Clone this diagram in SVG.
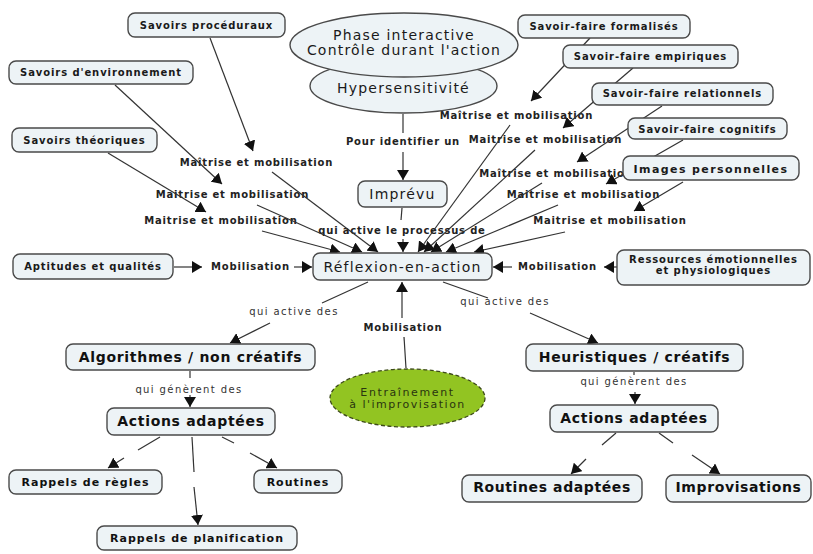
<svg xmlns="http://www.w3.org/2000/svg" width="813" height="554" viewBox="0 0 813 554">
<defs>
<marker id="ah" viewBox="0 0 10 12" refX="10" refY="6" markerWidth="10" markerHeight="12" markerUnits="userSpaceOnUse" orient="auto">
<path d="M0,0 L10,6 L0,12 Z" fill="#111"/>
</marker>
<style>
.n rect, .n ellipse { fill: #edf3f6; stroke: #4a4a4a; stroke-width: 1.4; }
.s { font-family: "DejaVu Sans", Verdana, sans-serif; font-size: 10px; font-weight: bold; letter-spacing: 0.9px; fill: #1a1a1a; text-anchor: middle; }
.m { font-family: "DejaVu Sans", Verdana, sans-serif; font-size: 14px; letter-spacing: 1.2px; fill: #1a1a1a; text-anchor: middle; }
.b { font-family: "DejaVu Sans", Verdana, sans-serif; font-size: 14px; font-weight: bold; letter-spacing: 0.7px; fill: #111; text-anchor: middle; }
.b11 { font-family: "DejaVu Sans", Verdana, sans-serif; font-size: 11px; font-weight: bold; letter-spacing: 1px; fill: #111; text-anchor: middle; }
.lb { font-family: "DejaVu Sans", Verdana, sans-serif; font-size: 10px; font-weight: bold; letter-spacing: 0.8px; fill: #222; text-anchor: middle; }
.ln { font-family: "DejaVu Sans", Verdana, sans-serif; font-size: 10px; letter-spacing: 1.4px; fill: #333; text-anchor: middle; }
.c line { stroke: #333; stroke-width: 1.2; }
.c line.a { marker-end: url(#ah); }
</style>
</defs>
<rect width="813" height="554" fill="#ffffff"/>

<g id="connectors" class="c">
<!-- labels -->
<text class="lb" x="256.5" y="166">Maîtrise et mobilisation</text>
<text class="lb" x="232.5" y="198">Maitrise et mobilisation</text>
<text class="lb" x="221" y="224">Maitrise et mobilisation</text>
<text class="lb" x="516.5" y="119">Maîtrise et mobilisation</text>
<text class="lb" x="545.5" y="143">Maitrise et mobilisation</text>
<text class="lb" x="556" y="177">Maîtrise et mobilisation</text>
<text class="lb" x="583.5" y="198">Maitrise et mobilisation</text>
<text class="lb" x="610" y="224">Maitrise et mobilisation</text>
<text class="lb" x="403" y="145">Pour identifier un</text>
<text class="lb" x="402" y="234">qui active le processus de</text>
<text class="lb" x="250.5" y="270">Mobilisation</text>
<text class="lb" x="557.5" y="270">Mobilisation</text>
<text class="lb" x="403" y="331">Mobilisation</text>
<text class="ln" x="294" y="315">qui active des</text>
<text class="ln" x="505" y="305">qui active des</text>
<text class="ln" x="189" y="393">qui génèrent des</text>
<text class="ln" x="634" y="385">qui génèrent des</text>

<!-- left sources -->
<line class="a" x1="210" y1="38" x2="253" y2="151"/>
<line class="a" x1="115" y1="85" x2="222" y2="184"/>
<line class="a" x1="108" y1="153" x2="206" y2="212"/>
<line class="a" x1="272" y1="172" x2="378" y2="252"/>
<line class="a" x1="257" y1="205" x2="362" y2="252"/>
<line class="a" x1="262" y1="231" x2="340" y2="252"/>
<!-- right sources -->
<line class="a" x1="590" y1="38" x2="531" y2="101"/>
<line class="a" x1="633" y1="68" x2="563" y2="128"/>
<line class="a" x1="662" y1="106" x2="577" y2="162"/>
<line class="a" x1="683" y1="140" x2="606" y2="184"/>
<line class="a" x1="683" y1="182" x2="634" y2="211"/>
<line class="a" x1="510" y1="125" x2="418" y2="252"/>
<line class="a" x1="535" y1="150" x2="424" y2="252"/>
<line class="a" x1="542" y1="183" x2="431" y2="252"/>
<line class="a" x1="558" y1="205" x2="446" y2="252"/>
<line class="a" x1="565" y1="232" x2="474" y2="252"/>
<!-- center vertical -->
<line x1="403" y1="114" x2="403" y2="133"/>
<line class="a" x1="403" y1="152" x2="403" y2="180"/>
<line x1="402" y1="208" x2="401" y2="220"/>
<line class="a" x1="403" y1="239" x2="403" y2="252"/>
<!-- side mobilisation -->
<line class="a" x1="174" y1="267" x2="202" y2="267"/>
<line class="a" x1="294" y1="267" x2="312" y2="267"/>
<line class="a" x1="617" y1="267" x2="604" y2="267"/>
<line class="a" x1="512" y1="267" x2="493" y2="267"/>
<!-- bottom mobilisation -->
<line x1="406" y1="368" x2="404" y2="337"/>
<line class="a" x1="402" y1="318" x2="402" y2="282"/>
<!-- qui active des -->
<line x1="368" y1="282" x2="322" y2="303"/>
<line class="a" x1="270" y1="323" x2="230" y2="343"/>
<line x1="443" y1="282" x2="488" y2="298"/>
<line class="a" x1="530" y1="313" x2="598" y2="343"/>
<!-- qui generent des -->
<line x1="190" y1="371" x2="190" y2="378"/>
<line class="a" x1="190" y1="395" x2="190" y2="407"/>
<line x1="634" y1="372" x2="634" y2="375"/>
<line class="a" x1="635" y1="392" x2="635" y2="404"/>
<!-- left actions -->
<line x1="160" y1="437" x2="138" y2="450"/>
<line class="a" x1="124" y1="458" x2="108" y2="468"/>
<line x1="192" y1="437" x2="194" y2="472"/>
<line class="a" x1="194" y1="487" x2="198" y2="525"/>
<line x1="222" y1="437" x2="234" y2="443"/>
<line class="a" x1="250" y1="453" x2="277" y2="468"/>
<!-- right actions -->
<line x1="616" y1="433" x2="602" y2="445"/>
<line class="a" x1="586" y1="459" x2="571" y2="474"/>
<line x1="659" y1="433" x2="673" y2="443"/>
<line class="a" x1="692" y1="455" x2="720" y2="474"/>
</g>

<g id="savoirs-proceduraux" class="n"><rect x="128" y="13" width="157" height="24" rx="7"/><text class="s" x="206.5" y="28.5">Savoirs procéduraux</text></g>
<g id="savoirs-environnement" class="n"><rect x="9" y="61" width="184" height="23" rx="7"/><text class="s" x="101" y="75.5">Savoirs d'environnement</text></g>
<g id="savoirs-theoriques" class="n"><rect x="12" y="128" width="145" height="24" rx="7"/><text class="s" x="84.5" y="143.5">Savoirs théoriques</text></g>

<g id="hypersensitivite" class="n"><ellipse cx="403.5" cy="86" rx="93.5" ry="27"/><text class="m" x="403.5" y="92.5">Hypersensitivité</text></g>
<g id="phase-interactive" class="n"><ellipse cx="404" cy="45" rx="114" ry="32"/><text class="m" x="404" y="40">Phase interactive</text><text class="m" x="404" y="55">Contrôle durant l'action</text></g>

<g id="sf-formalises" class="n"><rect x="518" y="15" width="172" height="23" rx="7"/><text class="s" x="604" y="29.5">Savoir-faire formalisés</text></g>
<g id="sf-empiriques" class="n"><rect x="563" y="45" width="175" height="23" rx="7"/><text class="s" x="650.5" y="59.5">Savoir-faire empiriques</text></g>
<g id="sf-relationnels" class="n"><rect x="592" y="83" width="181" height="22" rx="7"/><text class="s" x="682.5" y="97">Savoir-faire relationnels</text></g>
<g id="sf-cognitifs" class="n"><rect x="628" y="118" width="159" height="21" rx="7"/><text class="s" x="707.5" y="132.5">Savoir-faire cognitifs</text></g>
<g id="images-personnelles" class="n"><rect x="623" y="156" width="176" height="24" rx="7"/><text class="s" x="711" y="172.5" style="font-size:11px;letter-spacing:1.4px">Images personnelles</text></g>

<g id="imprevu" class="n"><rect x="358" y="181" width="89" height="26" rx="7"/><text class="m" x="402.5" y="198.5">Imprévu</text></g>
<g id="reflexion" class="n"><rect x="313" y="253" width="179" height="27" rx="7"/><text class="m" x="402.5" y="272">Réflexion-en-action</text></g>
<g id="aptitudes" class="n"><rect x="13" y="254" width="160" height="25" rx="7"/><text class="s" x="93" y="270">Aptitudes et qualités</text></g>
<g id="ressources" class="n"><rect x="617" y="250" width="193" height="35" rx="7"/><text class="s" x="713.5" y="263">Ressources émotionnelles</text><text class="s" x="713.5" y="274">et physiologiques</text></g>

<g id="algorithmes" class="n"><rect x="66" y="344" width="249" height="26" rx="7"/><text class="b" x="190.5" y="362">Algorithmes / non créatifs</text></g>
<g id="heuristiques" class="n"><rect x="526" y="344" width="217" height="27" rx="7"/><text class="b" x="634.5" y="362">Heuristiques / créatifs</text></g>
<g id="entrainement"><ellipse cx="407.5" cy="398" rx="77.5" ry="29" fill="#92c422" stroke="#3d4a1a" stroke-width="1.3" stroke-dasharray="4 2.5"/><text class="b11" x="407.5" y="396" style="font-weight:normal;fill:#2a3510;letter-spacing:1.6px">Entraînement</text><text class="b11" x="407.5" y="407.5" style="font-weight:normal;fill:#2a3510;letter-spacing:1.5px">à l'improvisation</text></g>

<g id="actions-l" class="n"><rect x="107" y="408" width="168" height="27" rx="7"/><text class="b" x="191" y="426">Actions adaptées</text></g>
<g id="actions-r" class="n"><rect x="550" y="405" width="168" height="27" rx="7"/><text class="b" x="634" y="423">Actions adaptées</text></g>

<g id="rappels-regles" class="n"><rect x="9" y="470" width="153" height="24" rx="7"/><text class="b11" x="85.5" y="486">Rappels de règles</text></g>
<g id="routines" class="n"><rect x="254" y="470" width="88" height="23" rx="7"/><text class="b11" x="298" y="486">Routines</text></g>
<g id="rappels-planification" class="n"><rect x="97" y="526" width="200" height="24" rx="7"/><text class="b11" x="197" y="542">Rappels de planification</text></g>
<g id="routines-adaptees" class="n"><rect x="462" y="475" width="180" height="27" rx="7"/><text class="b" x="552" y="492" style="letter-spacing:0.6px">Routines adaptées</text></g>
<g id="improvisations" class="n"><rect x="666" y="475" width="145" height="27" rx="7"/><text class="b" x="738.5" y="492" style="letter-spacing:0.6px">Improvisations</text></g>
</svg>
